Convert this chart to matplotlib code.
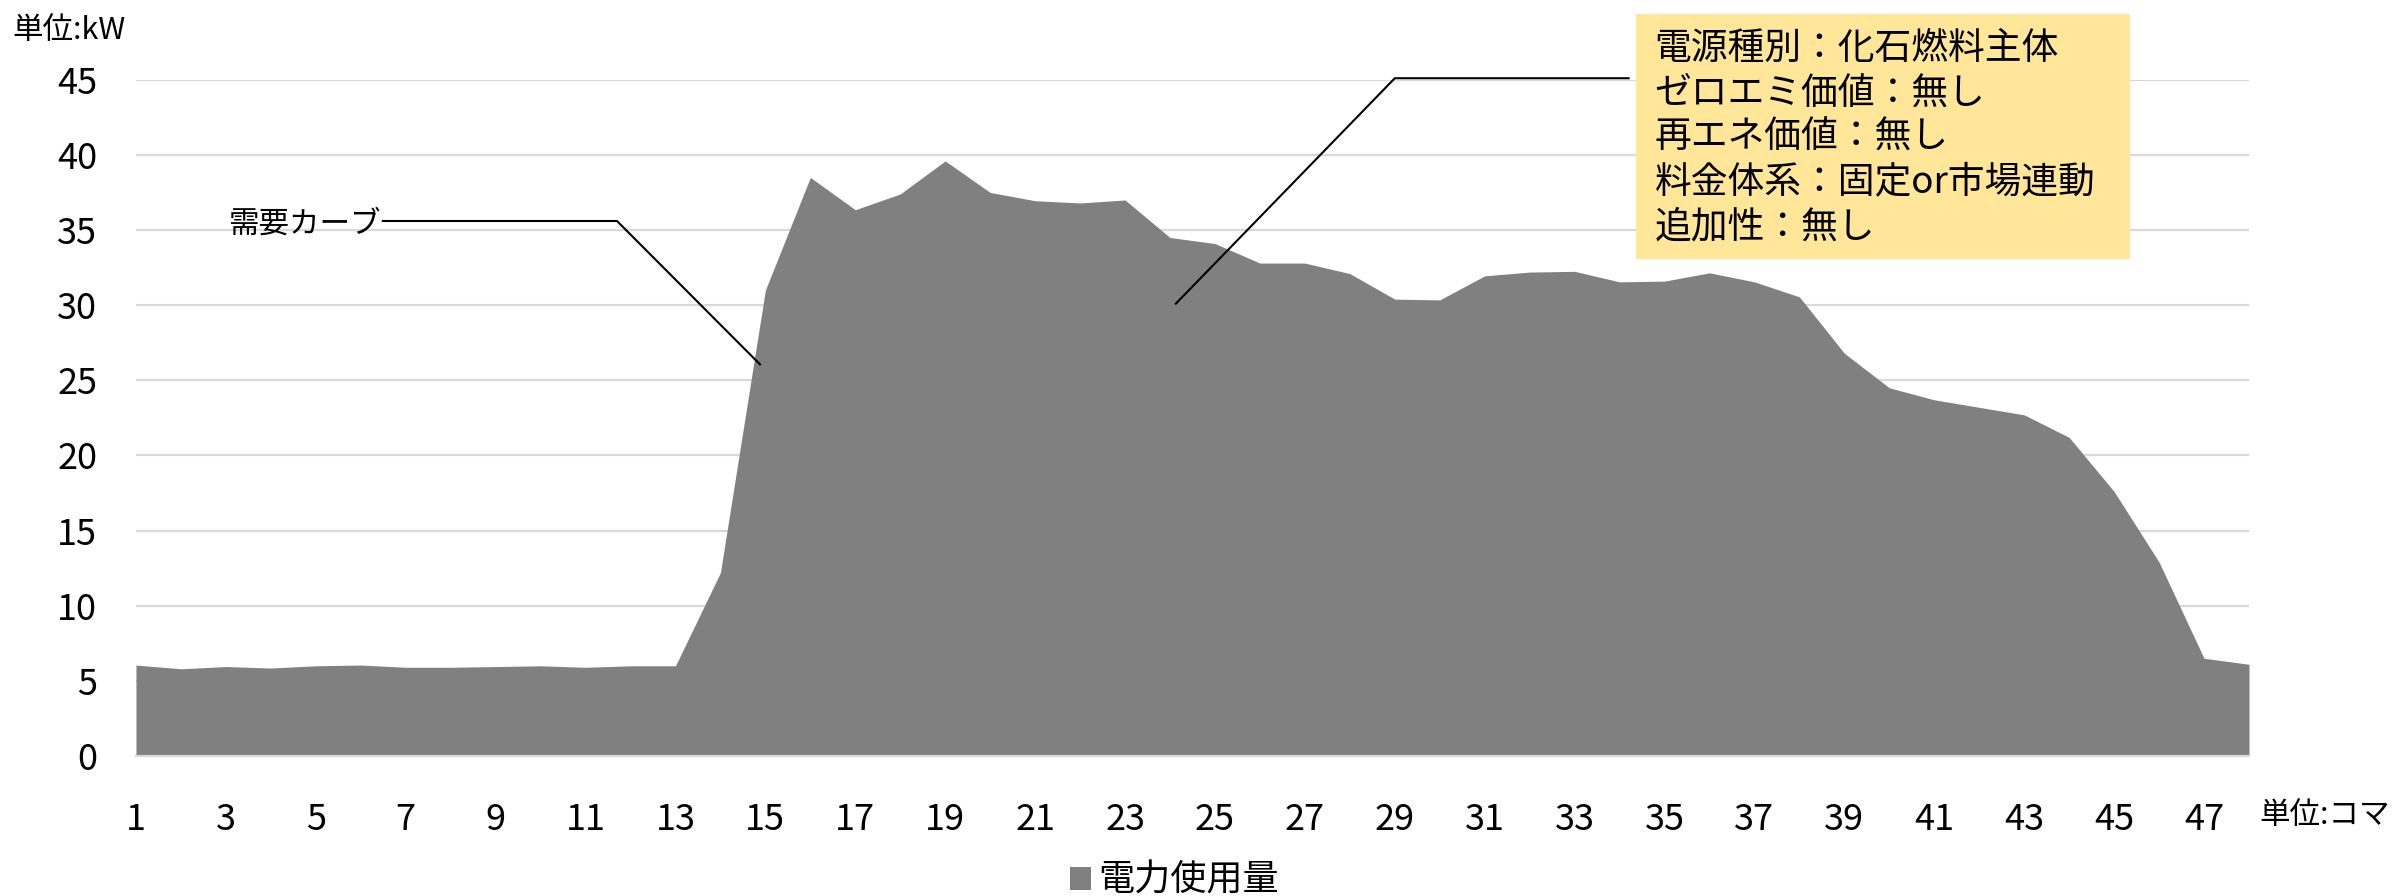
import matplotlib
matplotlib.use("Agg")
import matplotlib.pyplot as plt
from matplotlib.patches import Rectangle, Patch

plt.rcParams['font.family'] = ['Noto Sans CJK JP', 'DejaVu Sans']

# 30-minute slots (コマ) and demand in kW
koma = list(range(1, 49))
demand_kw = [6.05, 5.8, 5.95, 5.85, 6.0, 6.05, 5.9, 5.9, 5.95, 6.0, 5.9, 6.0,
             6.0, 12.2, 31.0, 38.5, 36.35, 37.4, 39.6, 37.5, 36.95, 36.8,
             37.0, 34.5, 34.1, 32.8, 32.8, 32.1, 30.4, 30.35, 31.95, 32.2,
             32.25, 31.55, 31.6, 32.15, 31.55, 30.55, 26.8, 24.5, 23.7, 23.2,
             22.7, 21.2, 17.6, 12.9, 6.5, 6.1]
xtick_labels = [str(k) for k in koma[::2]]
series_name = "電力使用量"
info_lines = ["電源種別：化石燃料主体",
              "ゼロエミ価値：無し",
              "再エネ価値：無し",
              "料金体系：固定or市場連動",
              "追加性：無し"]

area_color = "#808080"
grid_color = "#d9d9d9"

fig = plt.figure(figsize=(24.02, 8.96), dpi=100)
ax = fig.add_axes([0.0566, 0.1563, 0.8797, 0.7547])

ax.fill_between(koma, demand_kw, 0, color=area_color, lw=0, zorder=2)

ax.set_xlim(1, 48)
ax.set_ylim(0, 45)
ax.set_yticks(range(0, 46, 5))
ax.set_xticks(koma[::2])
ax.set_xticklabels(xtick_labels)
ax.tick_params(axis='both', length=0, labelsize=26)
ax.tick_params(axis='x', pad=33)
ax.tick_params(axis='y', pad=28)
ax.grid(axis='y', color=grid_color, lw=1.6, zorder=0)
for s in ['top', 'right', 'left']:
    ax.spines[s].set_visible(False)
ax.spines['bottom'].set_color(grid_color)
ax.spines['bottom'].set_linewidth(1.6)

# unit labels
fig.text(0.005, 0.966, "単位:kW", fontsize=22, ha='left', va='center')
fig.text(0.9405, 0.090, "単位:コマ", fontsize=22, ha='left', va='center')

# demand curve callout
ax.text(6.45, 35.4, "需要カーブ", fontsize=22, ha='right', va='center')
ax.plot([6.49, 11.7, 14.88], [35.6, 35.6, 26.06], color='black', lw=1.5,
        clip_on=False, zorder=5)

# info box callout
ax.plot([24.13, 29.0, 34.2], [30.1, 45.1, 45.1], color='black', lw=1.5,
        clip_on=False, zorder=5)
ax.add_patch(Rectangle((34.36, 33.1), 10.99, 16.3, facecolor="#ffe699",
                       edgecolor='none', clip_on=False, zorder=6))
for i, line in enumerate(info_lines):
    ax.text(34.78, 47.1 - 2.97 * i, line, fontsize=26.5, ha='left', va='center',
            zorder=7, clip_on=False)

fig.legend(handles=[Patch(facecolor=area_color, edgecolor='none')],
           labels=[series_name], loc='center', bbox_to_anchor=(0.489, 0.017),
           frameon=False, fontsize=26, handlelength=0.6, handleheight=0.6,
           handletextpad=0.2)

fig.savefig("out.png", dpi=100)
